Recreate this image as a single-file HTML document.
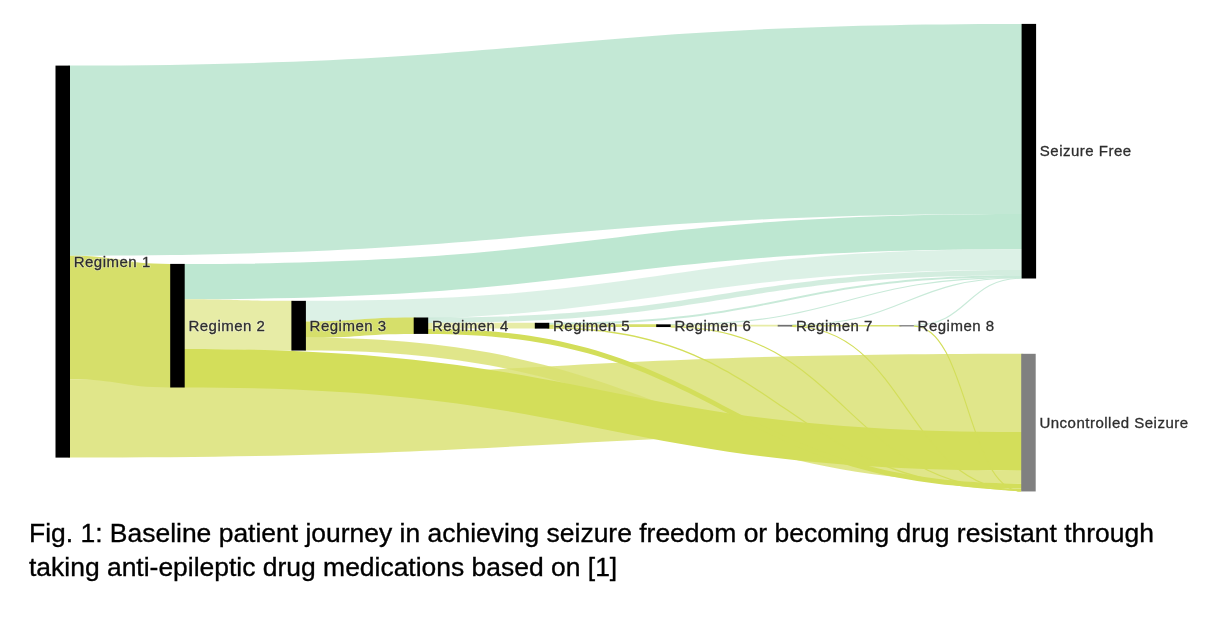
<!DOCTYPE html>
<html><head><meta charset="utf-8"><style>
html,body{margin:0;padding:0;background:#fff;}
body{width:1226px;height:618px;overflow:hidden;position:relative;}
svg{position:absolute;left:0;top:0;}
.lbl text{font-family:"Liberation Sans",sans-serif;font-size:15px;letter-spacing:0.5px;fill:#2e2e2e;stroke:#2e2e2e;stroke-width:0.3px;}
.halo text{font-family:"Liberation Sans",sans-serif;font-size:15px;letter-spacing:0.5px;fill:none;stroke:#fff;stroke-width:1.6px;stroke-opacity:0.45;stroke-linejoin:round;}
.cap{will-change:transform;position:absolute;left:29.3px;top:515.8px;font-family:"Liberation Sans",sans-serif;font-size:26.46px;line-height:34px;color:#000;white-space:nowrap;-webkit-text-stroke:0.35px #000;}
</style></head><body>
<svg width="1226" height="618" viewBox="0 0 1226 618">
<g class="links"><path d="M68.00,65.60L70.00,65.60C545.80,65.60 545.80,23.90 1021.60,23.90L1023.60,23.90L1023.60,214.00L1021.60,214.00C545.80,214.00 545.80,255.70 70.00,255.70L68.00,255.70Z" fill="rgb(180,226,202)" fill-opacity="0.80"/>
<path d="M68.00,379.30L70.00,379.30C545.60,379.30 545.60,353.80 1021.20,353.80L1023.20,353.80L1023.20,432.10L1021.20,432.10C545.60,432.10 545.60,457.60 70.00,457.60L68.00,457.60Z" fill="rgb(216,224,109)" fill-opacity="0.80"/>
<path d="M182.70,263.90L184.70,263.90C603.15,263.90 603.15,214.00 1021.60,214.00L1023.60,214.00L1023.60,249.30L1021.60,249.30C603.15,249.30 603.15,299.20 184.70,299.20L182.70,299.20Z" fill="rgb(172,225,198)" fill-opacity="0.80"/>
<path d="M182.70,299.20L184.70,299.20C238.05,299.20 238.05,300.85 291.40,300.85L293.40,300.85L293.40,350.55L291.40,350.55C238.05,350.55 238.05,348.90 184.70,348.90L182.70,348.90Z" fill="rgb(225,231,144)" fill-opacity="0.80"/>
<path d="M303.90,300.85L305.90,300.85C663.75,300.85 663.75,249.30 1021.60,249.30L1023.60,249.30L1023.60,269.90L1021.60,269.90C663.75,269.90 663.75,321.45 305.90,321.45L303.90,321.45Z" fill="rgb(211,238,224)" fill-opacity="0.80"/>
<path d="M303.90,337.85L305.90,337.85C663.55,337.85 663.55,470.70 1021.20,470.70L1023.20,470.70L1023.20,483.40L1021.20,483.40C663.55,483.40 663.55,350.55 305.90,350.55L303.90,350.55Z" fill="rgb(216,224,109)" fill-opacity="0.80"/>
<path d="M426.20,317.50L428.20,317.50C724.90,317.50 724.90,269.90 1021.60,269.90L1023.60,269.90L1023.60,275.30L1021.60,275.30C724.90,275.30 724.90,322.90 428.20,322.90L426.20,322.90Z" fill="rgb(200,232,215)" fill-opacity="0.80"/>
<path d="M426.20,322.90L428.20,322.90C481.50,322.90 481.50,322.80 534.80,322.80L536.80,322.80L536.80,328.60L534.80,328.60C481.50,328.60 481.50,328.70 428.20,328.70L426.20,328.70Z" fill="rgb(225,231,144)" fill-opacity="0.80"/>
<path d="M547.30,322.80L549.30,322.80C785.45,322.80 785.45,275.30 1021.60,275.30L1023.60,275.30L1023.60,277.15L1021.60,277.15C785.45,277.15 785.45,324.65 549.30,324.65L547.30,324.65Z" fill="rgb(188,229,208)" fill-opacity="0.80"/>
<path d="M670.70,324.60C846.15,324.60 846.15,277.40 1021.60,277.40" fill="none" stroke="#c9ead9" stroke-width="1.15"/>
<path d="M668.70,324.85L670.70,324.85C724.20,324.85 724.20,324.85 777.70,324.85L779.70,324.85L779.70,326.55L777.70,326.55C724.20,326.55 724.20,326.55 670.70,326.55L668.70,326.55Z" fill="rgb(225,231,144)" fill-opacity="0.80"/>
<path d="M792.20,324.92C906.90,324.92 906.90,277.73 1021.60,277.73" fill="none" stroke="#c9ead9" stroke-width="1.15"/>
<path d="M913.90,325.35C967.75,325.35 967.75,278.15 1021.60,278.15" fill="none" stroke="#c9ead9" stroke-width="1.15"/>
<path d="M68.00,255.70L70.00,255.70C120.10,255.70 120.10,263.90 170.20,263.90L172.20,263.90L172.20,387.50L170.20,387.50C120.10,387.50 120.10,379.30 70.00,379.30L68.00,379.30Z" fill="#d6df6a"/>
<path d="M182.70,348.90L184.70,348.90C602.95,348.90 602.95,432.10 1021.20,432.10L1023.20,432.10L1023.20,470.70L1021.20,470.70C602.95,470.70 602.95,387.50 184.70,387.50L182.70,387.50Z" fill="#d3de5a"/>
<path d="M303.90,321.45L305.90,321.45C359.80,321.45 359.80,317.50 413.70,317.50L415.70,317.50L415.70,333.90L413.70,333.90C359.80,333.90 359.80,337.85 305.90,337.85L303.90,337.85Z" fill="#d6df6a"/>
<path d="M426.20,328.70L428.20,328.70C724.70,328.70 724.70,483.40 1021.20,483.40L1023.20,483.40L1023.20,488.60L1021.20,488.60C724.70,488.60 724.70,333.90 428.20,333.90L426.20,333.90Z" fill="#d3de5a"/>
<path d="M547.30,324.65L549.30,324.65C602.75,324.65 602.75,324.35 656.20,324.35L658.20,324.35L658.20,327.05L656.20,327.05C602.75,327.05 602.75,327.35 549.30,327.35L547.30,327.35Z" fill="#d6df6a"/>
<path d="M547.30,327.35L549.30,327.35C785.25,327.35 785.25,488.60 1021.20,488.60L1023.20,488.60L1023.20,490.10L1021.20,490.10C785.25,490.10 785.25,328.85 549.30,328.85L547.30,328.85Z" fill="#d3de5a"/>
<path d="M670.70,326.80C845.95,326.80 845.95,490.35 1021.20,490.35" fill="none" stroke="#d3de5a" stroke-width="1.15"/>
<path d="M790.20,325.00L792.20,325.00C845.80,325.00 845.80,325.00 899.40,325.00L901.40,325.00L901.40,326.40L899.40,326.40C845.80,326.40 845.80,326.40 792.20,326.40L790.20,326.40Z" fill="#d6df6a"/>
<path d="M792.20,326.47C906.70,326.47 906.70,490.68 1021.20,490.68" fill="none" stroke="#d3de5a" stroke-width="1.15"/>
<path d="M913.90,326.05C967.55,326.05 967.55,491.10 1021.20,491.10" fill="none" stroke="#d3de5a" stroke-width="1.15"/>
<rect x="55.50" y="65.60" width="14.50" height="392.00" fill="#000"/>
<rect x="170.20" y="263.90" width="14.50" height="123.60" fill="#000"/>
<rect x="291.40" y="300.85" width="14.50" height="49.70" fill="#000"/>
<rect x="413.70" y="317.50" width="14.50" height="16.40" fill="#000"/>
<rect x="534.80" y="322.80" width="14.50" height="5.80" fill="#000"/>
<rect x="656.20" y="324.35" width="14.50" height="2.70" fill="#000"/>
<rect x="777.70" y="324.85" width="14.50" height="1.70" fill="#707070"/>
<rect x="899.40" y="325.00" width="14.50" height="1.50" fill="#8c8c8c"/>
<rect x="1021.60" y="23.90" width="14.50" height="254.60" fill="#000"/>
<rect x="1021.20" y="353.80" width="14.50" height="137.65" fill="#808080"/></g>
</svg>
<svg width="1226" height="618" viewBox="0 0 1226 618" style="will-change:transform">
<g class="halo"><text x="73.70" y="266.50">Regimen 1</text>
<text x="188.40" y="330.60">Regimen 2</text>
<text x="309.60" y="330.60">Regimen 3</text>
<text x="431.90" y="330.60">Regimen 4</text>
<text x="553.00" y="330.60">Regimen 5</text>
<text x="674.40" y="330.60">Regimen 6</text>
<text x="795.90" y="330.60">Regimen 7</text>
<text x="917.60" y="330.60">Regimen 8</text>
<text x="1039.80" y="156.10">Seizure Free</text>
<text x="1039.40" y="427.52">Uncontrolled Seizure</text></g>
<g class="lbl"><text x="73.70" y="266.50">Regimen 1</text>
<text x="188.40" y="330.60">Regimen 2</text>
<text x="309.60" y="330.60">Regimen 3</text>
<text x="431.90" y="330.60">Regimen 4</text>
<text x="553.00" y="330.60">Regimen 5</text>
<text x="674.40" y="330.60">Regimen 6</text>
<text x="795.90" y="330.60">Regimen 7</text>
<text x="917.60" y="330.60">Regimen 8</text>
<text x="1039.80" y="156.10">Seizure Free</text>
<text x="1039.40" y="427.52">Uncontrolled Seizure</text></g>
</svg>
<div class="cap">Fig. 1: Baseline patient journey in achieving seizure freedom or becoming drug resistant through<br>taking anti-epileptic drug medications based on [1]</div>
</body></html>
